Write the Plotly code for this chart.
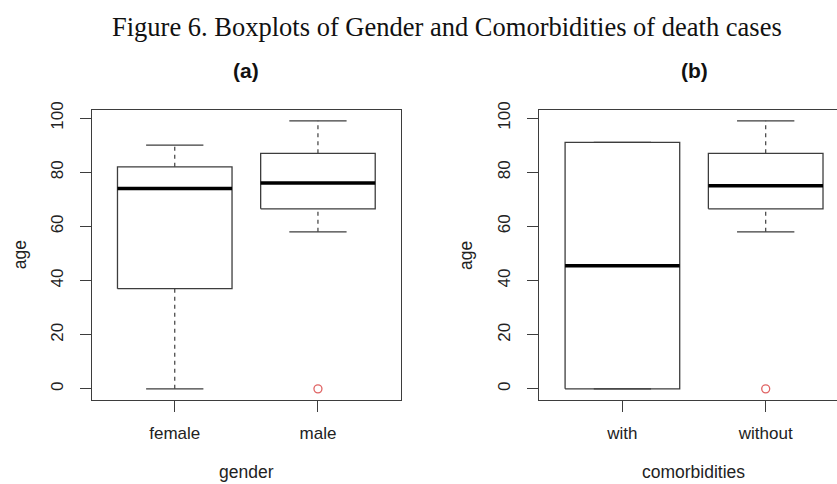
import plotly.graph_objects as go

# ---------------- data ----------------
categories_a = ["female", "male"]
low_a = [0, 58]
q1_a = [37, 66.5]
median_a = [74, 76]
q3_a = [82, 87]
high_a = [90, 99]
outliers_a = [[], [0]]

categories_b = ["with", "without"]
low_b = [0, 58]
q1_b = [0, 66.5]
median_b = [45.5, 75]
q3_b = [91, 87]
high_b = [91, 99]
outliers_b = [[], [0]]

y_ticks = [0, 20, 40, 60, 80, 100]

W, H = 837, 484
LINE = "#3d3d3d"
FONT = "Liberation Sans, Arial, sans-serif"


def px(x):
    return x / W


def py(y):
    return 1 - y / H


fig = go.Figure()


def add_boxes(cats, low, q1, med, q3, high, outs, xa, ya):
    bx, by, mx, my, wx, wy, cx, cy, ox, oy = [], [], [], [], [], [], [], [], [], []
    for i in range(len(cats)):
        c = i + 1
        bx += [c - 0.4, c + 0.4, c + 0.4, c - 0.4, c - 0.4, None]
        by += [q1[i], q1[i], q3[i], q3[i], q1[i], None]
        mx += [c - 0.4, c + 0.4, None]
        my += [med[i], med[i], None]
        wx += [c, c, None, c, c, None]
        wy += [q3[i], high[i], None, low[i], q1[i], None]
        cx += [c - 0.2, c + 0.2, None, c - 0.2, c + 0.2, None]
        cy += [high[i], high[i], None, low[i], low[i], None]
        for o in outs[i]:
            ox.append(c)
            oy.append(o)
    common = dict(xaxis=xa, yaxis=ya, showlegend=False, hoverinfo="skip")
    fig.add_trace(go.Scatter(x=wx, y=wy, mode="lines",
                             line=dict(color=LINE, width=1.2, dash="4px,4px"), **common))
    fig.add_trace(go.Scatter(x=cx, y=cy, mode="lines",
                             line=dict(color=LINE, width=1.2), **common))
    fig.add_trace(go.Scatter(x=bx, y=by, mode="lines",
                             line=dict(color=LINE, width=1.3), **common))
    fig.add_trace(go.Scatter(x=mx, y=my, mode="lines",
                             line=dict(color="#000000", width=3.5), **common))
    fig.add_trace(go.Scatter(x=ox, y=oy, mode="markers",
                             marker=dict(symbol="circle-open", size=8,
                                         color="#e06464", line=dict(width=1.3)), **common))


add_boxes(categories_a, low_a, q1_a, median_a, q3_a, high_a, outliers_a, "x", "y")
add_boxes(categories_b, low_b, q1_b, median_b, q3_b, high_b, outliers_b, "x2", "y2")

y_dom = [py(398), py(103)]
xa_dom = [px(91.7), px(401)]
xb_dom = [px(539.3), 1.0]

ax_common = dict(showgrid=False, zeroline=False, showline=True, linecolor=LINE,
                 linewidth=1.2, ticks="outside", ticklen=11, tickcolor=LINE,
                 tickwidth=1.2, tickfont=dict(family=FONT, size=17, color="#222"))

fig.update_layout(
    width=W, height=H,
    margin=dict(l=0, r=0, t=0, b=0),
    paper_bgcolor="white", plot_bgcolor="white",
    xaxis=dict(domain=xa_dom, range=[0.42, 2.58], tickvals=[1, 2],
               ticktext=categories_a, mirror=True, anchor="y",
               ticklabelstandoff=7, **ax_common),
    yaxis=dict(domain=y_dom, range=[-3.96, 102.96], tickvals=y_ticks,
               tickangle=-90, mirror=True, anchor="x",
               ticklabelstandoff=10, **ax_common),
    xaxis2=dict(domain=xb_dom, range=[0.42, 2.4976], tickvals=[1, 2],
                ticktext=categories_b, mirror=True, anchor="y2",
                ticklabelstandoff=7, **ax_common),
    yaxis2=dict(domain=y_dom, range=[-3.96, 102.96], tickvals=y_ticks,
                tickangle=-90, mirror=False, anchor="x2",
                ticklabelstandoff=10, **ax_common),
)

annotations = [
    dict(text="Figure 6. Boxplots of Gender and Comorbidities of death cases",
         x=px(447.5), y=py(18), font=dict(family="Liberation Serif, Times New Roman, serif",
                                          size=26.5, color="#111")),
    dict(text="<b>(a)</b>", x=px(246), y=py(63), font=dict(family=FONT, size=21, color="#111")),
    dict(text="<b>(b)</b>", x=px(694), y=py(63), font=dict(family=FONT, size=21, color="#111")),
    dict(text="age", x=px(20), y=py(251), textangle=-90, font=dict(family=FONT, size=17.5, color="#222")),
    dict(text="age", x=px(466.7), y=py(251), textangle=-90, font=dict(family=FONT, size=17.5, color="#222")),
    dict(text="gender", x=px(246), y=py(472), font=dict(family=FONT, size=17.5, color="#222")),
    dict(text="comorbidities", x=px(693), y=py(472), font=dict(family=FONT, size=17.5, color="#222")),
]
for a in annotations:
    a.update(xref="paper", yref="paper", showarrow=False, xanchor="center", yanchor="middle")
fig.update_layout(annotations=annotations)

fig.write_html("out.html",
               config={"displayModeBar": False},
               post_script="document.body.style.margin='0';document.body.style.overflow='hidden';")
